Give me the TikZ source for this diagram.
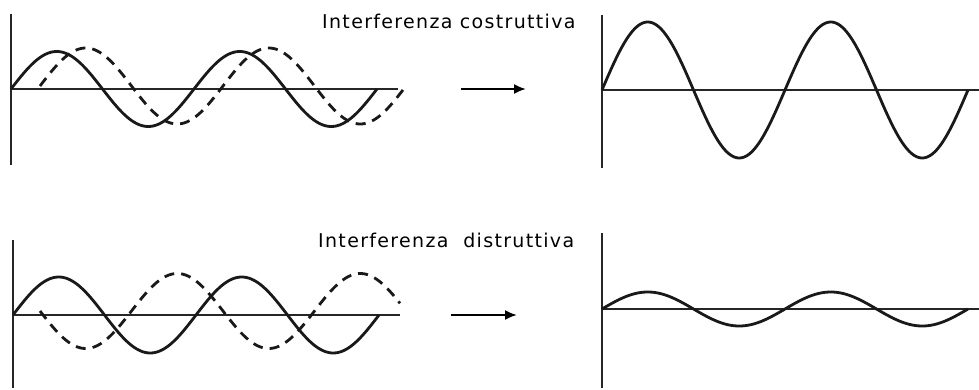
\documentclass[tikz,border=0pt]{standalone}
\usepackage{fontspec}
\newfontfamily\labfont[LetterSpace=7]{DejaVu Sans}
\usetikzlibrary{arrows.meta}
\begin{document}
\begin{tikzpicture}[x=1pt,y=-1pt,
  axis/.style={line width=1.4pt,black!85},
  wave/.style={line width=2.8pt,black!90,line join=round},
  dwave/.style={wave,dash pattern=on 10pt off 7pt},
  arr/.style={line width=2pt,-{Latex[length=12pt,width=10pt]}},
  lab/.style={anchor=base west,inner sep=0pt,font=\labfont\fontsize{19}{22}\selectfont}]
\useasboundingbox (0,0) rectangle (979,390);
% top-left
\draw[axis] (11,14) -- (11,165);
\draw[axis] (11,89) -- (398,89);
\draw[wave] plot[domain=11:377,samples=200,smooth] (\x,{89-37.5*sin(1.96721*(\x-11))});
\draw[dwave] plot[domain=40:403,samples=200,smooth] (\x,{86-38*sin(1.96721*(\x-40))});
% top-right
\draw[axis] (602,15) -- (602,168);
\draw[axis] (602,90) -- (979,90);
\draw[wave] plot[domain=602:968,samples=200,smooth] (\x,{90-68*sin(1.96721*(\x-602))});
% bottom-left
\draw[axis] (13,240) -- (13,388);
\draw[axis] (13,315) -- (400,315);
\draw[wave] plot[domain=13:379,samples=200,smooth] (\x,{315-38*sin(1.96721*(\x-13))});
\draw[dwave] plot[domain=40:400,samples=200,smooth] (\x,{311+37.5*sin(1.96721*(\x-40))});
% bottom-right
\draw[axis] (602,233) -- (602,388);
\draw[axis] (602,309) -- (979,309);
\draw[wave] plot[domain=602:968,samples=200,smooth] (\x,{309-17*sin(1.96721*(\x-602))});
% arrows
\coordinate (a1s) at (461,89); \coordinate (a1e) at (526,89);
\coordinate (a2s) at (451,315); \coordinate (a2e) at (517,315);
\draw[arr] (a1s) -- (a1e);
\draw[arr] (a2s) -- (a2e);
% labels
\node[lab] (l1) at (322,29) {Interferenza costruttiva};
\node[lab] (l2) at (318,247) {Interferenza\ \ distruttiva};
\end{tikzpicture}
\end{document}
